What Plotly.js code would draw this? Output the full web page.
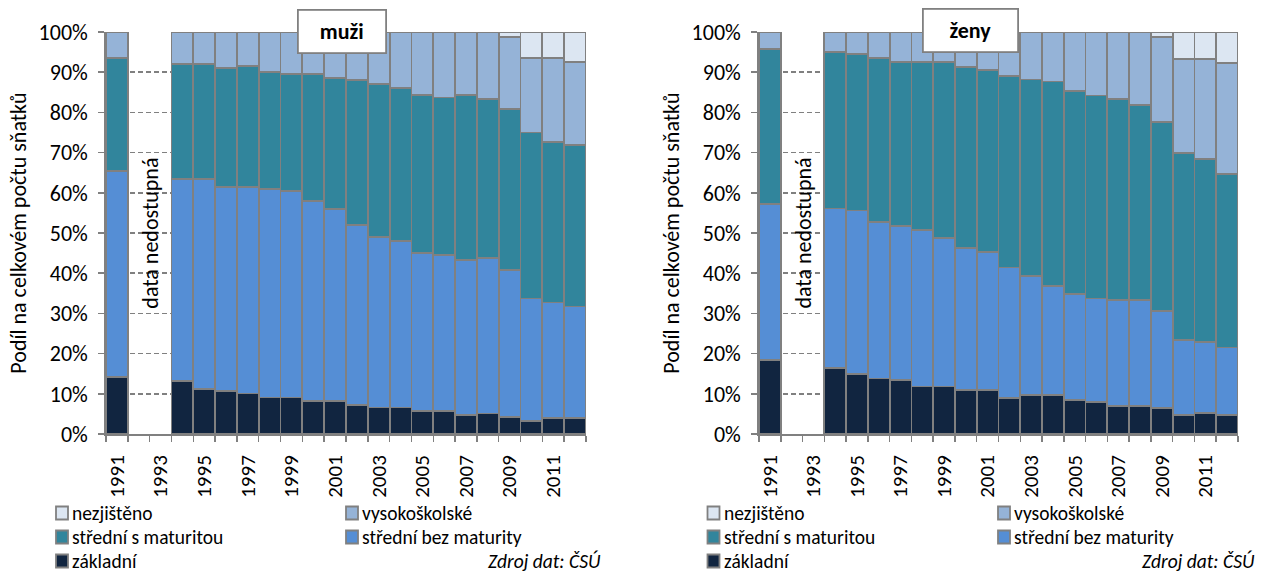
<!DOCTYPE html>
<html>
<head>
<meta charset="utf-8">
<script src="https://cdn.plot.ly/plotly-3.0.1.min.js"></script>
<style>
  html, body { margin: 0; padding: 0; background: #ffffff; }
  #chart { width: 1261px; height: 574px; }
</style>
</head>
<body>
<div id="chart"></div>
<script>
// ---------- data ----------
const years = [1991, 1992, 1993, 1994, 1995, 1996, 1997, 1998, 1999, 2000, 2001,
               2002, 2003, 2004, 2005, 2006, 2007, 2008, 2009, 2010, 2011, 2012];
const tickYears = [1991, 1993, 1995, 1997, 1999, 2001, 2003, 2005, 2007, 2009, 2011];

const seriesNames = ["základní", "střední bez maturity", "střední s maturitou", "vysokoškolské", "nezjištěno"];

// muži (men), % share
const zakladniM = [14.1, null, null, 13.2, 11.1, 10.7, 10.1, 9.1, 9.1, 8.2, 8.2, 7.2, 6.6, 6.6, 5.8, 5.8, 4.7, 5.1, 4.3, 3.3, 3.9, 3.9];
const bezMaturityM = [51.3, null, null, 50.2, 52.3, 50.8, 51.4, 51.8, 51.3, 49.8, 47.7, 44.8, 42.5, 41.5, 39.3, 38.8, 38.6, 38.6, 36.5, 30.4, 28.8, 27.8];
const sMaturitouM = [28.1, null, null, 28.6, 28.6, 29.6, 30.0, 29.2, 29.2, 31.6, 32.7, 36.1, 38.0, 37.9, 39.2, 39.1, 41.0, 39.6, 40.0, 41.3, 40.0, 40.2];
const vysokoskolskeM = [6.5, null, null, 8.0, 8.0, 8.9, 8.5, 9.9, 10.4, 10.4, 11.4, 11.9, 12.9, 14.0, 15.7, 16.3, 15.7, 16.7, 18.0, 18.6, 20.9, 20.7];
const nezjistenoM = [0, null, null, 0, 0, 0, 0, 0, 0, 0, 0, 0, 0, 0, 0, 0, 0, 0, 1.2, 6.4, 6.4, 7.4];

// ženy (women), % share
const zakladniZ = [18.5, null, null, 16.4, 14.9, 13.8, 13.4, 11.8, 11.8, 10.9, 10.9, 8.9, 9.8, 9.8, 8.5, 7.9, 6.9, 6.9, 6.5, 4.8, 5.2, 4.8];
const bezMaturityZ = [38.8, null, null, 39.7, 40.7, 38.9, 38.3, 38.9, 36.9, 35.3, 34.4, 32.5, 29.5, 27.0, 26.3, 25.8, 26.4, 26.4, 24.0, 18.6, 17.7, 16.7];
const sMaturitouZ = [38.5, null, null, 38.9, 39.0, 40.8, 40.8, 41.8, 43.8, 45.0, 45.3, 47.7, 48.9, 50.9, 50.5, 50.5, 50.0, 48.6, 47.1, 46.5, 45.6, 43.1];
const vysokoskolskeZ = [4.2, null, null, 5.0, 5.4, 6.5, 7.5, 7.5, 7.5, 8.8, 9.4, 10.9, 11.8, 12.3, 14.7, 15.8, 16.7, 18.1, 21.2, 23.4, 24.7, 27.7];
const nezjistenoZ = [0, null, null, 0, 0, 0, 0, 0, 0, 0, 0, 0, 0, 0, 0, 0, 0, 0, 1.2, 6.7, 6.8, 7.7];

const panelTitles = ["muži", "ženy"];
const yTitle = "Podíl na celkovém počtu sňatků";
const naText = "data nedostupná";
const sourceText = "Zdroj dat: ČSÚ";

// ---------- style ----------
const colors = ["#112540", "#558ED5", "#31859C", "#95B3D7", "#DCE6F2"];
const edge = "#808080";
const FONT = "Carlito, Calibri, Lato, 'Noto Sans', sans-serif";
const FS = 22;
const LFS = 19.5;
const W = 1261, H = 574;
const px = v => v / W;
const py = v => 1 - v / H;

const menSeries = [zakladniM, bezMaturityM, sMaturitouM, vysokoskolskeM, nezjistenoM];
const womenSeries = [zakladniZ, bezMaturityZ, sMaturitouZ, vysokoskolskeZ, nezjistenoZ];

const traces = [];
[[menSeries, "x", "y"], [womenSeries, "x2", "y2"]].forEach(([set, xa, ya]) => {
  set.forEach((vals, i) => {
    traces.push({
      type: "bar", x: years, y: vals, name: seriesNames[i],
      xaxis: xa, yaxis: ya, showlegend: false,
      marker: { color: colors[i], line: { color: edge, width: 1.8 } },
      hoverinfo: "name+y"
    });
  });
});

function xAxis(domain, anchor) {
  return {
    domain: domain, anchor: anchor, type: "linear", range: [1990.5, 2012.5],
    tickmode: "array", tickvals: tickYears, ticktext: tickYears.map(String),
    ticks: "", tickangle: -90, ticklabelstandoff: 11,
    minor: { tick0: 1990.5, dtick: 1, ticks: "outside", ticklen: 6, tickcolor: edge, tickwidth: 1.5, showgrid: false },
    showline: true, linecolor: edge, linewidth: 1.8, showgrid: false, zeroline: false,
    tickfont: { family: FONT, size: 21, color: "#000" }, fixedrange: true
  };
}
function yAxis(domain, anchor) {
  return {
    domain: domain, anchor: anchor, range: [0, 100], dtick: 10, tick0: 0,
    ticksuffix: "%", ticks: "outside", ticklen: 6, tickcolor: edge, tickwidth: 1.5,
    ticklabelstandoff: 6,
    showline: true, linecolor: edge, linewidth: 1.8,
    showgrid: true, gridcolor: edge, gridwidth: 1.5, griddash: "5px,3px", zeroline: false,
    tickfont: { family: FONT, size: FS, color: "#000" },
    title: { text: yTitle, font: { family: FONT, size: FS, color: "#000" }, standoff: 6 },
    automargin: false, fixedrange: true
  };
}

const yDom = [py(434), py(32)];
const layout = {
  width: W, height: H,
  margin: { l: 0, r: 0, t: 0, b: 0 },
  paper_bgcolor: "#ffffff", plot_bgcolor: "#ffffff",
  barmode: "stack", bargap: 0,
  showlegend: false,
  font: { family: FONT, size: FS, color: "#000" },
  xaxis: xAxis([px(106), px(586)], "y"),
  yaxis: yAxis(yDom, "x"),
  xaxis2: xAxis([px(759), px(1238)], "y2"),
  yaxis2: yAxis(yDom, "x2"),
  annotations: [],
  shapes: []
};

// "data nedostupná" labels
[["x", "y"], ["x2", "y2"]].forEach(([xr, yr]) => {
  layout.annotations.push({
    xref: xr, yref: yr, x: 1992.5, y: 50, text: naText, textangle: -90,
    showarrow: false, font: { family: FONT, size: FS, color: "#000" }
  });
});

// panel title boxes
[[342, 31.5, 86], [970.5, 30.5, 93]].forEach(([cx, cy, w], i) => {
  layout.annotations.push({
    xref: "paper", yref: "paper", x: px(cx), y: py(cy), xanchor: "center", yanchor: "middle",
    text: "<b>" + panelTitles[i] + "</b>", showarrow: false,
    width: w, height: 41, bgcolor: "#ffffff", bordercolor: edge, borderwidth: 1.8, borderpad: 0,
    font: { family: FONT, size: FS, color: "#000" }
  });
});

// manual legends (2-column grid as in the reference)
const legendRows = [[4, 3], [2, 1], [0, null]];
const rowY = [513, 537, 561];
[[56, 346, 603], [707.5, 998, 1257]].forEach(([c1, c2, srcRight]) => {
  legendRows.forEach((row, r) => {
    row.forEach((si, c) => {
      if (si === null) return;
      const sx = c === 0 ? c1 : c2;
      layout.shapes.push({
        type: "rect", xref: "paper", yref: "paper",
        x0: px(sx), x1: px(sx + 12), y0: py(rowY[r] + 6.5), y1: py(rowY[r] - 6.5),
        fillcolor: colors[si], line: { color: edge, width: 1.8 }
      });
      layout.annotations.push({
        xref: "paper", yref: "paper", x: px(sx + 14), y: py(rowY[r]),
        xanchor: "left", yanchor: "middle", text: seriesNames[si], showarrow: false,
        font: { family: FONT, size: LFS, color: "#000" }
      });
    });
  });
  layout.annotations.push({
    xref: "paper", yref: "paper", x: px(srcRight), y: py(561),
    xanchor: "right", yanchor: "middle", text: "<i>" + sourceText + "</i>", showarrow: false,
    font: { family: FONT, size: LFS, color: "#000" }
  });
});

Plotly.newPlot("chart", traces, layout, { displayModeBar: false, staticPlot: true });
</script>
</body>
</html>
